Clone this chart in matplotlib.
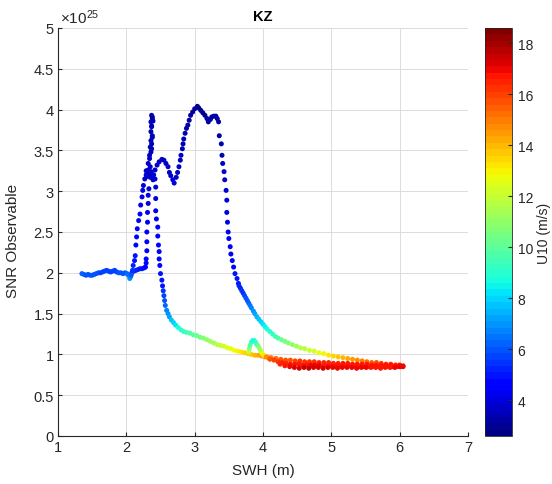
import matplotlib
matplotlib.use("Agg")
import matplotlib.pyplot as plt
from matplotlib import ticker

plt.rcParams["font.family"] = ["Liberation Sans", "DejaVu Sans"]
plt.rcParams["mathtext.fontset"] = "custom"
plt.rcParams["mathtext.rm"] = "Liberation Sans"
plt.rcParams["mathtext.it"] = "Liberation Sans"

# SNR values are in units of 1e25
# plateau at SNR ~ 2 for small waves
plateau_swh = [1.35, 1.38, 1.41, 1.44, 1.47, 1.50, 1.53, 1.56, 1.59, 1.62, 1.65, 1.68, 1.71,
               1.74, 1.77, 1.80, 1.83, 1.86, 1.89, 1.92, 1.95, 1.98, 2.01, 2.03, 2.05, 2.06]
plateau_snr = [1.99, 1.98, 1.97, 1.98, 1.97, 1.97, 1.98, 1.99, 2.00, 2.00, 2.01, 2.02, 2.03,
               2.02, 2.01, 2.02, 2.03, 2.01, 2.00, 2.00, 1.99, 2.00, 1.99, 1.97, 1.93, 1.95]
plateau_u10 = [6.2, 6.2, 6.1, 6.1, 6.0, 6.0, 6.0, 5.9, 5.9, 5.8, 5.8, 5.7, 5.7,
               5.7, 5.8, 5.8, 5.7, 5.8, 5.9, 6.0, 6.0, 6.1, 6.2, 6.6, 7.0, 6.8]

shelf_swh = [2.08, 2.11, 2.14, 2.17, 2.20, 2.23, 2.26, 2.28]
shelf_snr = [2.00, 2.02, 2.03, 2.04, 2.05, 2.05, 2.06, 2.07]
shelf_u10 = [5.6, 5.4, 5.3, 5.2, 5.1, 5.0, 4.9, 4.8]

# rising columns towards the first peak
rise_swh = [2.07, 2.09, 2.10, 2.12, 2.13, 2.14, 2.15, 2.16, 2.18, 2.20, 2.21, 2.23, 2.24, 2.25,
            2.29, 2.29, 2.30, 2.30, 2.30, 2.31, 2.31, 2.32, 2.32, 2.33]
rise_snr = [1.97, 2.03, 2.09, 2.15, 2.21, 2.34, 2.44, 2.54, 2.64, 2.72, 2.83, 2.93, 3.01, 3.07,
            2.12, 2.17, 2.27, 2.38, 2.50, 2.62, 2.74, 2.85, 2.95, 3.03]
rise_u10 = [6.0, 5.6, 5.3, 5.1, 5.0, 4.8, 4.7, 4.6, 4.5, 4.4, 4.3, 4.2, 4.1, 4.0,
            4.8, 4.7, 4.6, 4.5, 4.4, 4.3, 4.2, 4.1, 4.0, 4.0]

peak1_swh = [2.27, 2.29, 2.30, 2.31, 2.33, 2.34, 2.35, 2.37, 2.38, 2.40, 2.29, 2.32, 2.36, 2.39,
             2.32, 2.34, 2.34, 2.36, 2.35, 2.37, 2.36, 2.38, 2.36, 2.37, 2.36, 2.38, 2.37, 2.38,
             2.35, 2.37, 2.38, 2.37, 2.39]
peak1_snr = [3.15, 3.20, 3.18, 3.23, 3.19, 3.22, 3.17, 3.21, 3.18, 3.20, 3.25, 3.26, 3.24, 3.14,
             3.34, 3.40, 3.44, 3.48, 3.54, 3.58, 3.62, 3.68, 3.73, 3.79, 3.85, 3.89, 3.93, 3.91,
             3.30, 3.52, 3.66, 3.80, 3.86]
peak1_u10 = [3.9, 3.8, 3.8, 3.7, 3.7, 3.7, 3.6, 3.6, 3.7, 3.7, 3.8, 3.7, 3.6, 3.8,
             3.6, 3.6, 3.6, 3.5, 3.5, 3.5, 3.5, 3.4, 3.4, 3.4, 3.4, 3.4, 3.3, 3.3,
             3.6, 3.5, 3.4, 3.4, 3.4]

fall1_swh = [2.42, 2.43, 2.43, 2.43, 2.44, 2.46, 2.46, 2.47, 2.48, 2.48, 2.49, 2.50, 2.52]
fall1_snr = [3.15, 3.05, 2.91, 2.76, 2.66, 2.56, 2.45, 2.34, 2.26, 2.17, 2.09, 1.99, 1.91]
fall1_u10 = [3.9, 4.0, 4.1, 4.2, 4.3, 4.4, 4.5, 4.5, 4.6, 4.7, 4.8, 4.9, 5.0]

# hump and second peak
peak2_swh = [2.42, 2.45, 2.48, 2.52, 2.55, 2.58, 2.61, 2.63, 2.65, 2.68, 2.70, 2.73, 2.75,
             2.77, 2.79, 2.80, 2.82, 2.83, 2.84, 2.86, 2.88, 2.90, 2.92, 2.94, 2.97, 3.00,
             3.04, 3.06, 3.09, 3.12, 3.15, 3.18, 3.20, 3.23, 3.25, 3.28, 3.31, 3.33, 3.35]
peak2_snr = [3.26, 3.32, 3.36, 3.39, 3.38, 3.34, 3.30, 3.23, 3.19, 3.14, 3.10, 3.17, 3.23,
             3.30, 3.38, 3.44, 3.52, 3.58, 3.64, 3.71, 3.77, 3.81, 3.87, 3.93, 3.97, 4.01,
             4.04, 4.02, 3.99, 3.96, 3.93, 3.89, 3.85, 3.88, 3.91, 3.92, 3.92, 3.89, 3.85]
peak2_u10 = [3.7, 3.7, 3.6, 3.6, 3.6, 3.7, 3.7, 3.8, 3.8, 3.9, 3.9, 3.8, 3.7,
             3.7, 3.6, 3.6, 3.5, 3.5, 3.4, 3.4, 3.3, 3.3, 3.2, 3.2, 3.1, 3.1,
             3.0, 3.0, 3.0, 3.0, 3.0, 3.1, 3.1, 3.1, 3.1, 3.1, 3.1, 3.2, 3.2]

fall2_swh = [3.36, 3.39, 3.40, 3.41, 3.43, 3.44, 3.46, 3.47, 3.47, 3.48, 3.49, 3.50, 3.52,
             3.53, 3.55, 3.57, 3.59, 3.62, 3.64]
fall2_snr = [3.68, 3.58, 3.44, 3.34, 3.24, 3.14, 3.01, 2.89, 2.74, 2.62, 2.50, 2.42, 2.32,
             2.23, 2.15, 2.07, 1.99, 1.93, 1.87]
fall2_u10 = [3.3, 3.4, 3.5, 3.6, 3.7, 3.8, 3.9, 4.0, 4.1, 4.2, 4.3, 4.4, 4.5,
             4.6, 4.7, 4.8, 4.9, 5.0, 5.1]

# upper decaying tail after the second peak
tailA_swh = [3.65, 3.67, 3.69, 3.71, 3.73, 3.75, 3.77, 3.79, 3.81, 3.83, 3.86, 3.88, 3.91,
             3.94, 3.97, 4.00, 4.03, 4.06, 4.10, 4.14, 4.18, 4.22, 4.27, 4.32, 4.37, 4.43,
             4.49, 4.55, 4.61, 4.68, 4.75, 4.82, 4.89, 4.96, 5.03, 5.10, 5.17, 5.24, 5.31,
             5.38, 5.45, 5.52, 5.59, 5.66, 5.73, 5.80, 5.87, 5.94, 6.00, 6.05]
tailA_snr = [1.84, 1.81, 1.78, 1.75, 1.72, 1.69, 1.66, 1.63, 1.60, 1.57, 1.53, 1.50, 1.46,
             1.43, 1.40, 1.37, 1.34, 1.31, 1.28, 1.25, 1.22, 1.20, 1.18, 1.16, 1.14, 1.12,
             1.10, 1.08, 1.07, 1.05, 1.04, 1.02, 1.01, 0.99, 0.98, 0.97, 0.96, 0.95, 0.94,
             0.93, 0.92, 0.91, 0.90, 0.90, 0.89, 0.88, 0.88, 0.87, 0.87, 0.86]
tailA_u10 = [5.2, 5.3, 5.5, 5.6, 5.8, 5.9, 6.1, 6.3, 6.5, 6.7, 6.9, 7.1, 7.4,
             7.6, 7.9, 8.1, 8.4, 8.6, 8.9, 9.2, 9.5, 9.8, 10.1, 10.4, 10.7, 11.0,
             11.3, 11.6, 11.8, 12.1, 12.3, 12.6, 12.9, 13.2, 13.5, 13.8, 14.0, 14.3, 14.5,
             14.8, 15.0, 15.3, 15.5, 15.7, 15.9, 16.1, 16.3, 16.5, 16.6, 16.8]

# lower decaying tail after the first peak
tailB_swh = [2.53, 2.54, 2.55, 2.56, 2.57, 2.59, 2.61, 2.63, 2.66, 2.69, 2.72, 2.76, 2.80,
             2.84, 2.88, 2.93, 2.98, 3.03, 3.08, 3.13, 3.18, 3.23, 3.28, 3.33, 3.38, 3.43,
             3.48, 3.53, 3.58, 3.63, 3.68, 3.73, 3.78, 3.83, 3.88, 3.93, 3.98, 4.03, 4.08]
tailB_snr = [1.84, 1.78, 1.72, 1.66, 1.60, 1.54, 1.50, 1.46, 1.42, 1.39, 1.36, 1.33, 1.30,
             1.28, 1.27, 1.26, 1.24, 1.23, 1.21, 1.20, 1.18, 1.16, 1.14, 1.12, 1.11, 1.10,
             1.08, 1.07, 1.05, 1.04, 1.03, 1.02, 1.01, 1.00, 0.99, 0.99, 0.98, 0.97, 0.96]
tailB_u10 = [5.1, 5.4, 5.7, 6.0, 6.3, 6.7, 7.0, 7.3, 7.7, 8.0, 8.3, 8.6, 8.9,
             9.2, 9.5, 9.8, 10.0, 10.3, 10.5, 10.8, 11.0, 11.3, 11.5, 11.8, 12.0, 12.2,
             12.4, 12.6, 12.8, 13.0, 13.2, 13.4, 13.6, 13.8, 14.0, 14.2, 14.5, 14.8, 15.0]

loop_swh = [3.79, 3.80, 3.81, 3.83, 3.85, 3.87, 3.89, 3.91, 3.93, 3.95, 3.97, 3.99, 4.01]
loop_snr = [1.03, 1.07, 1.11, 1.15, 1.17, 1.17, 1.15, 1.12, 1.10, 1.07, 1.04, 1.01, 0.99]
loop_u10 = [12.0, 11.0, 10.0, 9.2, 8.8, 8.8, 9.2, 9.8, 10.4, 11.0, 11.8, 12.5, 13.2]

# high wind band (three overlapping traces)
band1_swh = [4.05, 4.12, 4.19, 4.26, 4.33, 4.40, 4.47, 4.54, 4.61, 4.68, 4.75, 4.82, 4.89,
             4.96, 5.03, 5.10, 5.17, 5.24, 5.31, 5.38, 5.45, 5.52, 5.59, 5.66, 5.73, 5.80,
             5.87, 5.94, 6.01]
band1_snr = [0.97, 0.96, 0.95, 0.94, 0.93, 0.93, 0.92, 0.92, 0.91, 0.91, 0.91, 0.90, 0.90,
             0.90, 0.89, 0.89, 0.89, 0.89, 0.88, 0.88, 0.88, 0.88, 0.87, 0.87, 0.87, 0.87,
             0.87, 0.86, 0.86]
band1_u10 = [14.8, 15.0, 15.3, 15.5, 15.7, 15.8, 16.0, 16.1, 16.2, 16.3, 16.3, 16.4, 16.4,
             16.5, 16.5, 16.5, 16.6, 16.6, 16.6, 16.6, 16.7, 16.7, 16.7, 16.7, 16.8, 16.8,
             16.8, 16.8, 16.8]

band2_swh = [4.10, 4.16, 4.22, 4.28, 4.34, 4.40, 4.46, 4.52, 4.58, 4.64, 4.70, 4.76, 4.82,
             4.88, 4.94, 5.00, 5.06, 5.12, 5.18, 5.24, 5.30, 5.36, 5.42, 5.48, 5.54, 5.60,
             5.66, 5.72, 5.78, 5.84, 5.90, 5.96, 6.02]
band2_snr = [0.94, 0.93, 0.91, 0.90, 0.89, 0.88, 0.88, 0.88, 0.87, 0.87, 0.87, 0.87, 0.87,
             0.86, 0.86, 0.86, 0.86, 0.86, 0.86, 0.86, 0.86, 0.86, 0.85, 0.85, 0.85, 0.85,
             0.85, 0.85, 0.85, 0.85, 0.85, 0.85, 0.85]
band2_u10 = [15.8, 16.0, 16.2, 16.4, 16.5, 16.6, 16.7, 16.8, 16.8, 16.8, 16.9, 16.9, 16.9,
             16.8, 16.8, 16.8, 16.8, 16.7, 16.7, 16.7, 16.7, 16.7, 16.7, 16.7, 16.7, 16.7,
             16.7, 16.7, 16.7, 16.7, 16.8, 16.8, 16.8]

band3_swh = [4.25, 4.32, 4.39, 4.46, 4.53, 4.60, 4.67, 4.74, 4.81, 4.88, 4.95, 5.02, 5.09,
             5.16, 5.23, 5.30, 5.37, 5.44, 5.51, 5.58, 5.65, 5.72, 5.79, 5.86, 5.93, 6.00, 6.05]
band3_snr = [0.88, 0.86, 0.85, 0.84, 0.83, 0.84, 0.83, 0.84, 0.84, 0.83, 0.84, 0.84, 0.83,
             0.84, 0.84, 0.84, 0.83, 0.84, 0.84, 0.84, 0.84, 0.83, 0.84, 0.84, 0.84, 0.85, 0.85]
band3_u10 = [16.5, 16.7, 16.9, 17.1, 17.3, 17.4, 17.4, 17.3, 17.2, 17.1, 17.1, 17.0, 17.0,
             16.9, 16.9, 16.9, 16.9, 16.9, 16.9, 16.8, 16.8, 16.8, 16.8, 16.8, 16.9, 16.9, 16.9]

u10_min, u10_max = 2.6, 18.6

segments = [
    (plateau_swh, plateau_snr, plateau_u10),
    (shelf_swh, shelf_snr, shelf_u10),
    (rise_swh, rise_snr, rise_u10),
    (peak1_swh, peak1_snr, peak1_u10),
    (fall1_swh, fall1_snr, fall1_u10),
    (peak2_swh, peak2_snr, peak2_u10),
    (fall2_swh, fall2_snr, fall2_u10),
    (tailB_swh, tailB_snr, tailB_u10),
    (loop_swh, loop_snr, loop_u10),
    (tailA_swh, tailA_snr, tailA_u10),
    (band1_swh, band1_snr, band1_u10),
    (band2_swh, band2_snr, band2_u10),
    (band3_swh, band3_snr, band3_u10),
]

dark = "#262626"
cmap = plt.get_cmap("jet", 64)

fig = plt.figure(figsize=(5.52, 4.85), dpi=100)
ax = fig.add_axes([58 / 552, 48 / 485, 410 / 552, 408 / 485])
cax = fig.add_axes([485 / 552, 48 / 485, 27 / 552, 408 / 485])

for sx, sy, su in segments:
    sc = ax.scatter(sx, sy, c=su, cmap=cmap, vmin=u10_min, vmax=u10_max,
                    s=13, linewidths=0, zorder=3)

ax.set_xlim(1, 7)
ax.set_ylim(0, 5)
ax.set_xticks(range(1, 8))
ax.set_yticks([0, 0.5, 1, 1.5, 2, 2.5, 3, 3.5, 4, 4.5, 5])
ax.yaxis.set_major_formatter(ticker.FuncFormatter(lambda v, p: f"{v:g}"))
ax.grid(True, color="#dcdcdc", linewidth=0.7)
ax.set_axisbelow(True)
for side in ["top", "right"]:
    ax.spines[side].set_visible(False)
for side in ["left", "bottom"]:
    ax.spines[side].set_color(dark)
    ax.spines[side].set_linewidth(0.8)
ax.tick_params(direction="in", length=3, width=0.8, colors=dark, labelsize=10.5, pad=3)

ax.set_xlabel("SWH (m)", fontsize=11, color=dark)
ax.set_ylabel("SNR Observable", fontsize=11, color=dark)
ax.yaxis.set_label_coords(-0.093, 0.48)
ax.xaxis.set_label_coords(0.5, -0.065)
ax.set_title("KZ", fontsize=10.5, fontweight="bold", color="black", pad=6)
ax.text(0.005, 1.006, r"$\times10^{25}$", transform=ax.transAxes, ha="left", va="bottom",
        fontsize=11, color=dark)

cb = fig.colorbar(sc, cax=cax)
cb.set_ticks([4, 6, 8, 10, 12, 14, 16, 18])
cb.outline.set_edgecolor(dark)
cb.outline.set_linewidth(0.6)
cax.tick_params(direction="in", length=3, width=0.8, colors=dark, labelsize=10, pad=4)
cb.set_label("U10 (m/s)", fontsize=10, color=dark, labelpad=3)

fig.savefig("out.png", dpi=100)
